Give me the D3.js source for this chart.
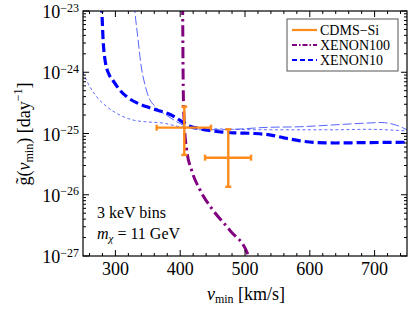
<!DOCTYPE html>
<html>
<head>
<meta charset="utf-8">
<title>g tilde vs vmin</title>
<script src="https://d3js.org/d3.v7.min.js"></script>
<style>
  body { margin: 0; background: #fff; }
  text { font-family: "Liberation Serif", "DejaVu Serif", serif; fill: #000; }
</style>
</head>
<body>
<div id="chart"></div>
<script>
// ---- data ----
// XENON10, thick dashed
var xe10V = [278, 279, 281, 284, 290, 296, 307, 320, 335, 350, 365, 380, 392, 403, 415, 430, 445, 466, 490, 515, 538, 560, 585, 610, 640, 680, 720, 750];
var xe10G = [1.3e-23, 1.0e-23, 3.39e-24, 1.58e-24, 9.3e-25, 7.4e-25, 5.1e-25, 3.8e-25, 3.1e-25, 2.7e-25, 2.4e-25, 2.14e-25, 1.86e-25, 1.55e-25, 1.32e-25, 1.2e-25, 1.12e-25, 1.05e-25, 1.02e-25, 1.0e-25, 9.5e-26, 8.5e-26, 7.6e-26, 7.1e-26, 7.0e-26, 7.1e-26, 7.15e-26, 7.2e-26];
// XENON10 variant, thin long dashes
var xe10aV = [329, 330, 335, 339.5, 345.7, 350, 364, 380, 400, 415, 430, 481, 534, 585, 636, 688, 710, 735, 750];
var xe10aG = [1.3e-23, 1.0e-23, 3.4e-24, 1.32e-24, 6.2e-25, 4.3e-25, 2.6e-25, 1.95e-25, 1.45e-25, 1.23e-25, 1.15e-25, 1.17e-25, 1.26e-25, 1.29e-25, 1.38e-25, 1.48e-25, 1.51e-25, 1.35e-25, 1.15e-25];
// XENON10 variant, thin short dashes
var xe10bV = [250, 257.7, 271, 286.6, 307, 327, 348, 373.5, 400, 430, 481, 534, 585, 636, 688, 750];
var xe10bG = [1.0e-24, 6.6e-25, 4.0e-25, 2.75e-25, 2.0e-25, 1.66e-25, 1.55e-25, 1.48e-25, 1.29e-25, 1.23e-25, 1.17e-25, 1.15e-25, 1.15e-25, 1.15e-25, 1.17e-25, 1.1e-25];
// XENON100, dash-dot
var xe100V = [403.6, 403.8, 404.3, 404.8, 406.3, 410, 417.7, 430.5, 450.6, 477, 504.6, 506];
var xe100G = [1.3e-23, 1e-23, 1.58e-24, 4.6e-25, 1.48e-25, 5.4e-26, 2.5e-26, 1.2e-26, 5.6e-27, 2.6e-27, 1.05e-27, 9e-28];
// CDMS-Si points with bin widths and errors
var cdmsV   = [406.3, 474.2];
var cdmsVlo = [363.7, 438.3];
var cdmsVhi = [447.5, 509.3];
var cdmsG   = [1.245e-25, 4.03e-26];
var cdmsGlo = [4.47e-26, 1.35e-26];
var cdmsGhi = [2.75e-25, 1.17e-25];

var xTicks = [300, 400, 500, 600, 700];
var yExps = [-27, -26, -25, -24, -23];
var legendNames = ["CDMS\u2212Si", "XENON100", "XENON10"];

// ---- layout ----
var W = 413, H = 312;
var L = 83, R = 407, T = 11, B = 256;

var svg = d3.select("#chart").append("svg")
    .attr("width", W).attr("height", H);

var x = d3.scaleLinear().domain([250, 750]).range([L, R]);
var y = d3.scaleLog().domain([1e-27, 1e-23]).range([B, T]);

svg.append("clipPath").attr("id", "plotclip")
  .append("rect").attr("x", L).attr("y", T).attr("width", R - L).attr("height", B - T);

var plot = svg.append("g").attr("clip-path", "url(#plotclip)");

function series(vs, gs) {
  return vs.map(function(v, i) { return [v, gs[i]]; });
}
var line = d3.line()
    .x(function(d) { return x(d[0]); })
    .y(function(d) { return y(d[1]); })
    .curve(d3.curveMonotoneX);

// thin XENON10 variants
plot.append("path").datum(series(xe10bV, xe10bG))
    .attr("d", line).attr("fill", "none")
    .attr("stroke", "#2233ff").attr("stroke-opacity", 0.8)
    .attr("stroke-width", 0.9).attr("stroke-dasharray", "3,2.5");
plot.append("path").datum(series(xe10aV, xe10aG))
    .attr("d", line).attr("fill", "none")
    .attr("stroke", "#2233ff").attr("stroke-opacity", 0.85)
    .attr("stroke-width", 0.9).attr("stroke-dasharray", "9,3");

// thick XENON10
plot.append("path").datum(series(xe10V, xe10G))
    .attr("d", line).attr("fill", "none")
    .attr("stroke", "#0000ff").attr("stroke-width", 3.2)
    .attr("stroke-dasharray", "9,4");

// XENON100
plot.append("path").datum(series(xe100V, xe100G))
    .attr("d", line).attr("fill", "none")
    .attr("stroke", "#800080").attr("stroke-width", 3)
    .attr("stroke-dasharray", "11,4,2.5,4");

// CDMS-Si crosses
var orange = "#ff8c1a";
var cap = 3;
var cd = plot.append("g").attr("stroke", orange).attr("stroke-width", 2.4).attr("fill", "none");
cdmsV.forEach(function(v, i) {
  var cx = x(v), cy = y(cdmsG[i]);
  var x0 = x(cdmsVlo[i]), x1 = x(cdmsVhi[i]);
  var y0 = y(cdmsGhi[i]), y1 = y(cdmsGlo[i]);
  cd.append("line").attr("x1", x0).attr("x2", x1).attr("y1", cy).attr("y2", cy);
  cd.append("line").attr("x1", cx).attr("x2", cx).attr("y1", y0).attr("y2", y1);
  cd.append("line").attr("x1", x0).attr("x2", x0).attr("y1", cy - cap).attr("y2", cy + cap);
  cd.append("line").attr("x1", x1).attr("x2", x1).attr("y1", cy - cap).attr("y2", cy + cap);
  cd.append("line").attr("x1", cx - cap).attr("x2", cx + cap).attr("y1", y0).attr("y2", y0);
  cd.append("line").attr("x1", cx - cap).attr("x2", cx + cap).attr("y1", y1).attr("y2", y1);
});

// ---- frame and ticks ----
var frame = svg.append("g").attr("stroke", "#000").attr("stroke-width", 1);
var maj = 6, mnr = 3;
d3.range(260, 750, 20).forEach(function(v) {
  var len = (v % 100 === 0) ? maj : mnr;
  frame.append("line").attr("x1", x(v)).attr("x2", x(v)).attr("y1", B).attr("y2", B - len);
  frame.append("line").attr("x1", x(v)).attr("x2", x(v)).attr("y1", T).attr("y2", T + len);
});
yExps.forEach(function(e) {
  for (var k = 1; k <= 9; k++) {
    var val = k * Math.pow(10, e);
    if (val > 1.0001e-23) continue;
    var py = y(val), len = (k === 1) ? maj : mnr;
    frame.append("line").attr("x1", L).attr("x2", L + len).attr("y1", py).attr("y2", py);
    frame.append("line").attr("x1", R).attr("x2", R - len).attr("y1", py).attr("y2", py);
  }
});
svg.append("rect").attr("x", L).attr("y", T).attr("width", R - L).attr("height", B - T)
    .attr("fill", "none").attr("stroke", "#000").attr("stroke-width", 1.2);

// tick labels
svg.append("g").selectAll("text").data(xTicks).enter().append("text")
    .attr("x", function(d) { return x(d); }).attr("y", B + 19)
    .attr("text-anchor", "middle").attr("font-size", 18)
    .text(function(d) { return d; });

var yl = svg.append("g").selectAll("text").data(yExps).enter().append("text")
    .attr("x", 79).attr("y", function(d) { return y(Math.pow(10, d)) + 7; })
    .attr("text-anchor", "end").attr("font-size", 18);
yl.append("tspan").text("10");
yl.append("tspan").attr("font-size", 12).attr("dy", -6.5).text(function(d) { return "\u2212" + (-d); });

// axis labels
var xl = svg.append("text").attr("x", 246).attr("y", 300).attr("text-anchor", "middle").attr("font-size", 18);
xl.append("tspan").attr("font-style", "italic").text("v");
xl.append("tspan").attr("font-size", 12).attr("dy", 3).text("min");
xl.append("tspan").attr("dy", -3).text(" [km/s]");

var ylab = svg.append("text").attr("transform", "translate(30,134) rotate(-90)")
    .attr("text-anchor", "middle").attr("font-size", 18);
ylab.append("tspan").text("g\u0303(");
ylab.append("tspan").attr("font-style", "italic").text("v");
ylab.append("tspan").attr("font-size", 12).attr("dy", 3).text("min");
ylab.append("tspan").attr("dy", -3).text(") [day");
ylab.append("tspan").attr("font-size", 12).attr("dy", -8).text("\u22121");
ylab.append("tspan").attr("dy", 8).text("]");

// annotation
svg.append("text").attr("x", 97).attr("y", 218).attr("font-size", 16).text("3 keV bins");
var ann = svg.append("text").attr("x", 97).attr("y", 239).attr("font-size", 16);
ann.append("tspan").attr("font-style", "italic").text("m");
ann.append("tspan").attr("font-style", "italic").attr("font-size", 11).attr("dy", 3).text("\u03c7");
ann.append("tspan").attr("dy", -3).text(" = 11 GeV");

// legend
var lg = svg.append("g");
lg.append("rect").attr("x", 287).attr("y", 19).attr("width", 111).attr("height", 52)
    .attr("fill", "#fff").attr("stroke", "#555").attr("stroke-width", 1);
var legStyle = [
  { c: orange, w: 2.2, dash: null },
  { c: "#800080", w: 2, dash: "5,2,1.5,2" },
  { c: "#0000ff", w: 2, dash: "5,3" }
];
legendNames.forEach(function(name, i) {
  var ly = 30 + i * 15;
  var s = legStyle[i];
  var ln = lg.append("line").attr("x1", 292).attr("x2", 317).attr("y1", ly).attr("y2", ly)
      .attr("stroke", s.c).attr("stroke-width", s.w);
  if (s.dash) ln.attr("stroke-dasharray", s.dash);
  lg.append("text").attr("x", 320).attr("y", ly + 5).attr("font-size", 14).text(name);
});
</script>
</body>
</html>
